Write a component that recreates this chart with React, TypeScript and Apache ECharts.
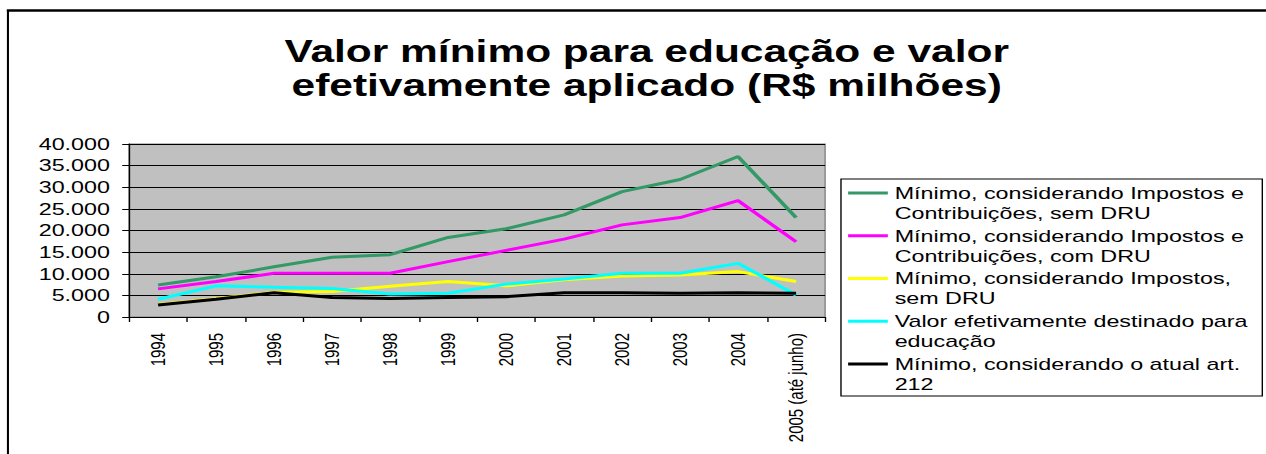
import React, { useEffect, useRef } from "react";
import * as echarts from "echarts";

const categories = ["1994", "1995", "1996", "1997", "1998", "1999", "2000", "2001", "2002", "2003", "2004", "2005 (até junho)"];
const seriesNames = [
  "Mínimo, considerando Impostos e\nContribuições, sem DRU",
  "Mínimo, considerando Impostos e\nContribuições, com DRU",
  "Mínimo, considerando Impostos,\nsem DRU",
  "Valor efetivamente destinado para\neducação",
  "Mínimo, considerando o atual art.\n212",
];
const semDRU = [7400, 9300, 11600, 13800, 14400, 18400, 20400, 23600, 29000, 31800, 37100, 23000];
const comDRU = [6500, 8200, 10100, 10100, 10100, 12800, 15400, 18000, 21300, 23000, 26900, 17400];
const impostosSemDRU = [2900, 4200, 5700, 5900, 7100, 8200, 7200, 8600, 9500, 9700, 10500, 8200];
const efetivo = [4100, 7200, 6900, 6600, 5300, 5500, 7600, 8800, 10100, 10100, 12400, 5100];
const art212 = [2800, 4100, 5600, 4500, 4300, 4500, 4700, 5600, 5600, 5500, 5600, 5500];
const seriesValues = [semDRU, comDRU, impostosSemDRU, efetivo, art212];
const colors = ["#339966", "#ff00ff", "#ffff00", "#00ffff", "#000000"];
const titleText = "Valor mínimo para educação e valor\nefetivamente aplicado (R$ milhões)";

const SX = 1266 / 924;
const FONT = "'Liberation Sans', Arial, sans-serif";

export default function App() {
  const ref = useRef<HTMLDivElement>(null);
  useEffect(() => {
    if (!ref.current) return;
    const chart = echarts.init(ref.current, null, { renderer: "svg" });
    chart.setOption({
      animation: false,
      backgroundColor: "#ffffff",
      title: {
        text: titleText,
        left: 467,
        top: 29,
        textAlign: "center",
        textStyle: { fontFamily: FONT, fontSize: 31, fontWeight: "bold", color: "#000", lineHeight: 34 },
      },
      graphic: [
        { type: "line", shape: { x1: 5, y1: 10.5, x2: 930, y2: 10.5 }, style: { stroke: "#000", lineWidth: 2.5 } },
        { type: "line", shape: { x1: 5.8, y1: 10, x2: 5.8, y2: 460 }, style: { stroke: "#000", lineWidth: 1.5 } },
        { type: "rect", z: -1, shape: { x: 613.8, y: 179, width: 307.5, height: 217 }, style: { fill: "#fff", stroke: "#000", lineWidth: 1 } },
      ],
      legend: {
        orient: "vertical",
        left: 619,
        top: 163,
        padding: 0,
        itemGap: -17.25,
        itemWidth: 29,
        itemHeight: 3,
        icon: "rect",
        data: seriesNames,
        formatter: (name: string) => "\n" + name,
        textStyle: { fontFamily: FONT, fontSize: 17, lineHeight: 20, color: "#000" },
      },
      grid: {
        left: 94.2,
        right: 321.8,
        top: 144,
        bottom: 137,
        show: true,
        backgroundColor: "#c0c0c0",
        borderColor: "#808080",
        borderWidth: 1,
      },
      xAxis: {
        type: "category",
        data: categories,
        boundaryGap: true,
        axisLine: { lineStyle: { color: "#000", width: 1 } },
        axisTick: { show: true, length: 5, lineStyle: { color: "#000" } },
        axisLabel: { rotate: 90, margin: 16, fontFamily: FONT, fontSize: 15, color: "#000" },
      },
      yAxis: {
        type: "value",
        min: 0,
        max: 40000,
        interval: 5000,
        axisLine: { show: true, lineStyle: { color: "#000", width: 1 } },
        axisTick: { show: true, length: 5, lineStyle: { color: "#000" } },
        splitLine: { show: true, lineStyle: { color: "#000", width: 1 } },
        axisLabel: {
          margin: 14,
          fontFamily: FONT,
          fontSize: 17,
          color: "#000",
          formatter: (v: number) => (v === 0 ? "0" : `${Math.round(v / 1000)}.000`),
        },
      },
      series: seriesNames.map((name, i) => ({
        name,
        type: "line",
        data: seriesValues[i],
        showSymbol: false,
        symbol: "none",
        color: colors[i],
        lineStyle: { color: colors[i], width: 3 },
      })),
    });
    return () => chart.dispose();
  }, []);
  return (
    <div
      ref={ref}
      style={{
        position: "absolute",
        left: 0,
        top: 0,
        width: 924,
        height: 454,
        transform: `scaleX(${SX})`,
        transformOrigin: "0 0",
      }}
    />
  );
}
